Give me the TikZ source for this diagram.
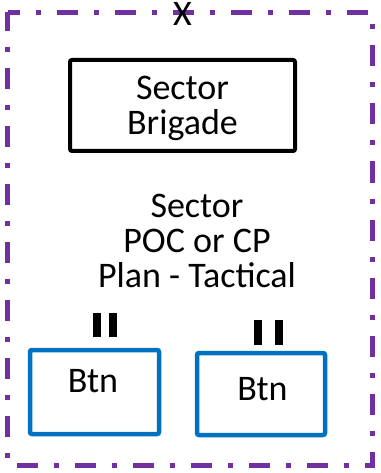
\documentclass[tikz,border=0pt]{standalone}
\usepackage{fontspec}
\setmainfont{Carlito}
\usepackage{tikz}
\usetikzlibrary{positioning}
\definecolor{sectorpurple}{RGB}{112,48,160}
\definecolor{btnblue}{RGB}{0,112,192}
\tikzstyle{every node}+=[inner sep=0pt]
\tikzstyle{bigtext}=[font=\fontsize{36}{35}\selectfont, align=center]
\tikzstyle{brigbox}=[draw=black, line width=4pt, rounded corners=2pt, minimum width=225pt, minimum height=91pt, bigtext, text depth=0pt]
\tikzstyle{btnbox}=[draw=btnblue, line width=4.5pt, rounded corners=2pt]
\tikzstyle{outerframe}=[draw=sectorpurple, line width=5pt, dash pattern=on 21pt off 16pt on 5pt off 16pt, dash phase=8.5pt]

\begin{document}
\begin{tikzpicture}[x=1pt,y=1pt]
        \useasboundingbox (0,0) rectangle (380,-473);
        \draw [outerframe] (7.5,-12.5) -- (372,-12.5) -- (372,-465) -- (7.5,-465) -- cycle;
        \node [bigtext, anchor=base] (echelon) at (182.5,-26) {X};
        \node [brigbox] (brigade) at (182.5,-105.5) {Sector\\Brigade};
        \node [bigtext, text depth=0pt] (poc) at (197,-241) {Sector\\POC or CP\\Plan - Tactical};
        % battalions
        \node [btnbox, minimum width=129pt, minimum height=84pt] (btnA) at (94.5,-392) {};
        \node [bigtext, anchor=base] (btnAlabel) at (93,-392) {Btn};
        \node [btnbox, minimum width=128pt, minimum height=82pt] (btnB) at (261,-394) {};
        \node [bigtext, anchor=base] (btnBlabel) at (262.5,-400) {Btn};
        % battalion marks (II)
        \fill [black] (93,-313) rectangle (101,-337);
        \fill [black] (109,-313) rectangle (117,-337);
        \fill [black] (254,-320) rectangle (262,-345);
        \fill [black] (275,-320) rectangle (283,-345);
\end{tikzpicture}
\end{document}
